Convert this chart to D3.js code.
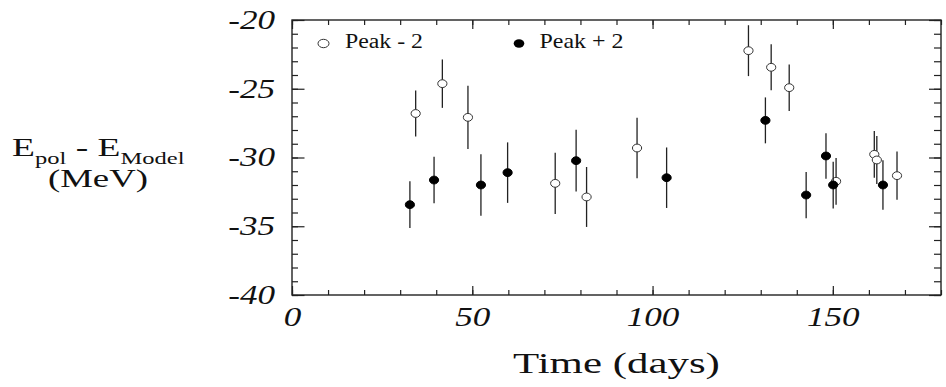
<!DOCTYPE html>
<html>
<head>
<meta charset="utf-8">
<script src="https://cdn.jsdelivr.net/npm/d3@7"></script>
<style>
  body { margin: 0; background: #fff; }
  text { font-family: "Liberation Serif", "Times New Roman", serif; fill: #111; }
</style>
</head>
<body>
<div id="chart"></div>
<script>
// Peak - 2 (open circles)
const minusDays = [34.3, 41.7, 48.8, 73.0, 81.7, 95.7, 126.6, 132.9, 137.9, 150.9, 161.5, 162.2, 167.8];
const minusVals = [-26.8, -24.63, -27.08, -31.88, -32.87, -29.31, -22.23, -23.44, -24.92, -31.73, -29.77, -30.18, -31.32];
const minusErrs = [1.67, 1.76, 2.3, 2.23, 2.18, 2.2, 1.85, 1.67, 1.69, 1.7, 1.7, 1.75, 1.75];

// Peak + 2 (filled circles)
const plusDays = [32.7, 39.4, 52.4, 59.8, 78.8, 103.9, 131.3, 142.6, 148.1, 150.1, 163.9];
const plusVals = [-33.43, -31.64, -32.0, -31.1, -30.23, -31.47, -27.3, -32.73, -29.89, -32.0, -32.0];
const plusErrs = [1.7, 1.69, 2.23, 2.2, 2.25, 2.2, 1.67, 1.68, 1.66, 1.7, 1.8];

const xTicks = [0, 50, 100, 150];
const yTicks = [-40, -35, -30, -25, -20];

const W = 946, H = 387;
const margin = {top: 20, right: 5, bottom: 92, left: 292};
const SX = 1.3; // the picture is stretched horizontally

const svg = d3.select("#chart").append("svg")
    .attr("width", W).attr("height", H);

const x = d3.scaleLinear().domain([0, 180]).range([margin.left, W - margin.right]);
const y = d3.scaleLinear().domain([-40, -20]).range([H - margin.bottom, margin.top]);

// stretch text horizontally around its x anchor
function stretch(sel, sx) {
  sel.each(function() {
    const px = +this.getAttribute("x") || 0;
    this.setAttribute("transform", "translate(" + px + ",0) scale(" + sx + ",1) translate(" + (-px) + ",0)");
  });
}
function fitWidth(sel, w) {
  sel.each(function() {
    const bw = this.getBBox().width;
    stretch(d3.select(this), w / bw);
  });
}

const fmt = d => String(d);
const minorX = d3.range(0, 181, 10);
const minorY = d3.range(-40, -19, 1);

/* minor ticks */
svg.append("g").attr("transform", "translate(0," + y(-40) + ")")
  .call(d3.axisBottom(x).tickValues(minorX).tickSize(-5).tickFormat(""));
svg.append("g").attr("transform", "translate(0," + y(-20) + ")")
  .call(d3.axisTop(x).tickValues(minorX).tickSize(-5).tickFormat(""));
svg.append("g").attr("transform", "translate(" + x(0) + ",0)")
  .call(d3.axisLeft(y).tickValues(minorY).tickSize(-6).tickFormat(""));
svg.append("g").attr("transform", "translate(" + x(180) + ",0)")
  .call(d3.axisRight(y).tickValues(minorY).tickSize(-7).tickFormat(""));

/* major ticks with labels */
const xAxis = svg.append("g").attr("transform", "translate(0," + y(-40) + ")")
  .call(d3.axisBottom(x).tickValues(xTicks).tickSize(-9).tickPadding(12).tickFormat(fmt));
svg.append("g").attr("transform", "translate(0," + y(-20) + ")")
  .call(d3.axisTop(x).tickValues(d3.range(0, 181, 50)).tickSize(-9).tickFormat(""));
const yAxis = svg.append("g").attr("transform", "translate(" + x(0) + ",0)")
  .call(d3.axisLeft(y).tickValues(yTicks).tickSize(-12.5).tickPadding(17).tickFormat(fmt));
svg.append("g").attr("transform", "translate(" + x(180) + ",0)")
  .call(d3.axisRight(y).tickValues(yTicks).tickSize(-12).tickFormat(""));

svg.selectAll(".domain").remove();
svg.selectAll(".tick line").attr("stroke", "#222").attr("stroke-width", 1.2);

xAxis.selectAll("text").attr("font-size", 27).attr("font-style", "italic")
  .attr("fill", "#111").call(stretch, SX);
yAxis.selectAll("text").attr("font-size", 27).attr("font-style", "italic")
  .attr("fill", "#111").attr("dy", "0.31em").call(stretch, SX);

/* frame */
svg.append("rect")
  .attr("x", x(0)).attr("y", y(-20))
  .attr("width", x(180) - x(0)).attr("height", y(-40) - y(-20))
  .attr("fill", "none").attr("stroke", "#222").attr("stroke-width", 1.4);

/* data */
function drawSeries(days, vals, errs, filled) {
  const pts = days.map((d, i) => ({t: d, v: vals[i], e: errs[i]}));
  const g = svg.append("g");
  g.selectAll("line").data(pts).enter().append("line")
    .attr("x1", d => x(d.t)).attr("x2", d => x(d.t))
    .attr("y1", d => y(d.v - d.e)).attr("y2", d => y(d.v + d.e))
    .attr("stroke", "#222").attr("stroke-width", 1.3);
  g.selectAll("ellipse").data(pts).enter().append("ellipse")
    .attr("cx", d => x(d.t)).attr("cy", d => y(d.v))
    .attr("rx", 4.6).attr("ry", 3.9)
    .attr("fill", filled ? "#000" : "#fff")
    .attr("stroke", filled ? "#000" : "#333").attr("stroke-width", 1);
}
drawSeries(minusDays, minusVals, minusErrs, false);
drawSeries(plusDays, plusVals, plusErrs, true);

/* legend */
svg.append("ellipse").attr("cx", 323.5).attr("cy", 43.5).attr("rx", 5.5).attr("ry", 4.2)
  .attr("fill", "#fff").attr("stroke", "#333").attr("stroke-width", 1);
svg.append("text").attr("x", 345).attr("y", 48.5).attr("font-size", 20)
  .text("Peak - 2").call(fitWidth, 78);
svg.append("ellipse").attr("cx", 519).attr("cy", 43.5).attr("rx", 5.3).attr("ry", 4.2)
  .attr("fill", "#000");
svg.append("text").attr("x", 539.5).attr("y", 48.5).attr("font-size", 20)
  .text("Peak + 2").call(fitWidth, 84);

/* axis titles */
svg.append("text").attr("x", 513).attr("y", 373).attr("font-size", 30)
  .text("Time (days)").call(fitWidth, 207);

const yt = svg.append("text").attr("x", 12).attr("y", 156).attr("font-size", 26);
yt.append("tspan").text("E");
yt.append("tspan").attr("font-size", 17).attr("dy", 8).text("pol");
yt.append("tspan").attr("dy", -8).text(" - E");
yt.append("tspan").attr("font-size", 17).attr("dy", 8).text("Model");
yt.call(fitWidth, 173);

svg.append("text").attr("x", 48).attr("y", 187).attr("font-size", 25)
  .text("(MeV)").call(fitWidth, 100);
</script>
</body>
</html>
